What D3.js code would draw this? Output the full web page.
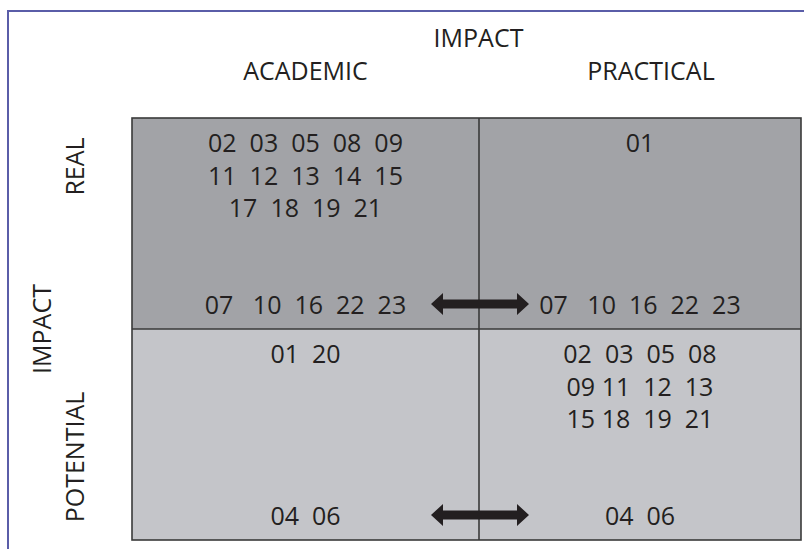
<!DOCTYPE html>
<html>
<head>
<meta charset="utf-8">
<script src="https://cdn.jsdelivr.net/npm/d3@7"></script>
<style>
  html, body { margin: 0; padding: 0; background: #fff; }
  svg { display: block; }
  text { font-family: "Open Sans", sans-serif; fill: #231f20; white-space: pre; }
</style>
</head>
<body>
<svg id="chart" width="804" height="549"></svg>
<script>
// ---- data ----
const axisTitle = "IMPACT";
const columns = ["ACADEMIC", "PRACTICAL"];
const rows = ["REAL", "POTENTIAL"];
// studies listed in the upper part of each cell
const realAcademicTop = ["02  03  05  08  09", "11  12  13  14  15", "17  18  19  21"];
const realPracticalTop = ["01"];
const potentialAcademicTop = ["01  20"];
const potentialPracticalTop = ["02  03  05  08", "09 11  12  13", "15 18  19  21"];
// studies listed at the bottom of each cell (linked by arrows)
const realAcademicBottom = "07   10  16  22  23";
const realPracticalBottom = "07   10  16  22  23";
const potentialAcademicBottom = "04  06";
const potentialPracticalBottom = "04  06";
// rows that have a double arrow between the two columns
const arrowRows = ["REAL", "POTENTIAL"];

const cells = [
  { row: "REAL", col: "ACADEMIC", top: realAcademicTop, bottom: realAcademicBottom },
  { row: "REAL", col: "PRACTICAL", top: realPracticalTop, bottom: realPracticalBottom },
  { row: "POTENTIAL", col: "ACADEMIC", top: potentialAcademicTop, bottom: potentialAcademicBottom },
  { row: "POTENTIAL", col: "PRACTICAL", top: potentialPracticalTop, bottom: potentialPracticalBottom }
];

// ---- layout ----
const svg = d3.select("#chart");
const xEdge = d3.scaleLinear().domain([0, 1, 2]).range([132, 479, 801]);
const yEdge = d3.scaleLinear().domain([0, 1, 2]).range([118, 329, 540]);
const ci = c => columns.indexOf(c);
const ri = r => rows.indexOf(r);
const rowFill = { REAL: "#a2a3a7", POTENTIAL: "#c4c5c9" };
const fs = 25;

// outer blue frame
svg.append("path")
  .attr("d", "M8,549 L8,11 L804,11")
  .attr("fill", "none").attr("stroke", "#5a5da8").attr("stroke-width", 2);

// cells
svg.selectAll("rect.cell").data(cells).join("rect")
  .attr("class", "cell")
  .attr("x", d => xEdge(ci(d.col)))
  .attr("y", d => yEdge(ri(d.row)))
  .attr("width", d => xEdge(ci(d.col) + 1) - xEdge(ci(d.col)))
  .attr("height", d => yEdge(ri(d.row) + 1) - yEdge(ri(d.row)))
  .attr("fill", d => rowFill[d.row]);

// grid lines
const gridG = svg.append("g").attr("stroke", "#3a3a3a").attr("stroke-width", 1.6).attr("fill", "none");
gridG.append("rect")
  .attr("x", xEdge(0)).attr("y", yEdge(0))
  .attr("width", xEdge(2) - xEdge(0)).attr("height", yEdge(2) - yEdge(0));
gridG.append("line").attr("x1", xEdge(1)).attr("x2", xEdge(1)).attr("y1", yEdge(0)).attr("y2", yEdge(2));
gridG.append("line").attr("x1", xEdge(0)).attr("x2", xEdge(2)).attr("y1", yEdge(1)).attr("y2", yEdge(1));

// headers
svg.append("text").attr("x", 478.5).attr("y", 47).attr("text-anchor", "middle")
  .attr("font-size", fs).text(axisTitle);
const headerOffset = { ACADEMIC: 0, PRACTICAL: 11 };
svg.selectAll("text.colhead").data(columns).join("text")
  .attr("class", "colhead")
  .attr("x", d => (xEdge(ci(d)) + xEdge(ci(d) + 1)) / 2 + headerOffset[d])
  .attr("y", 80).attr("text-anchor", "middle").attr("font-size", fs).text(d => d);

// row headers (rotated)
svg.selectAll("text.rowhead").data(rows).join("text")
  .attr("class", "rowhead")
  .attr("text-anchor", "middle").attr("font-size", fs)
  .attr("transform", (d, i) => `translate(84,${i === 0 ? 166.5 : 457}) rotate(-90)`)
  .text(d => d);
svg.append("text").attr("text-anchor", "middle").attr("font-size", fs)
  .attr("transform", `translate(51,${(yEdge(0) + yEdge(2)) / 2}) rotate(-90)`)
  .text(axisTitle);

// cell texts
const lineGap = 32.5;
cells.forEach(c => {
  const cx = (xEdge(ci(c.col)) + xEdge(ci(c.col) + 1)) / 2;
  const y0 = yEdge(ri(c.row));
  const y1 = yEdge(ri(c.row) + 1);
  svg.append("g").selectAll("text").data(c.top).join("text")
    .attr("x", cx).attr("y", (d, i) => y0 + 34 + i * lineGap)
    .attr("text-anchor", "middle").attr("font-size", fs)
    .attr("xml:space", "preserve").text(d => d);
  svg.append("text").attr("x", cx).attr("y", y1 - 15.5)
    .attr("text-anchor", "middle").attr("font-size", fs)
    .attr("xml:space", "preserve").text(c.bottom);
});

// double arrows
const half = 49, headLen = 12, headHalf = 11, shaftHalf = 4.5;
const arrowPath = `M${-half},0 L${-half + headLen},${-headHalf} L${-half + headLen},${-shaftHalf}
  L${half - headLen},${-shaftHalf} L${half - headLen},${-headHalf} L${half},0
  L${half - headLen},${headHalf} L${half - headLen},${shaftHalf}
  L${-half + headLen},${shaftHalf} L${-half + headLen},${headHalf} Z`;
svg.selectAll("path.arrow").data(arrowRows).join("path")
  .attr("class", "arrow")
  .attr("transform", d => `translate(${xEdge(1) + 1},${yEdge(ri(d) + 1) - 25})`)
  .attr("d", arrowPath)
  .attr("fill", "#231f20");
</script>
</body>
</html>
